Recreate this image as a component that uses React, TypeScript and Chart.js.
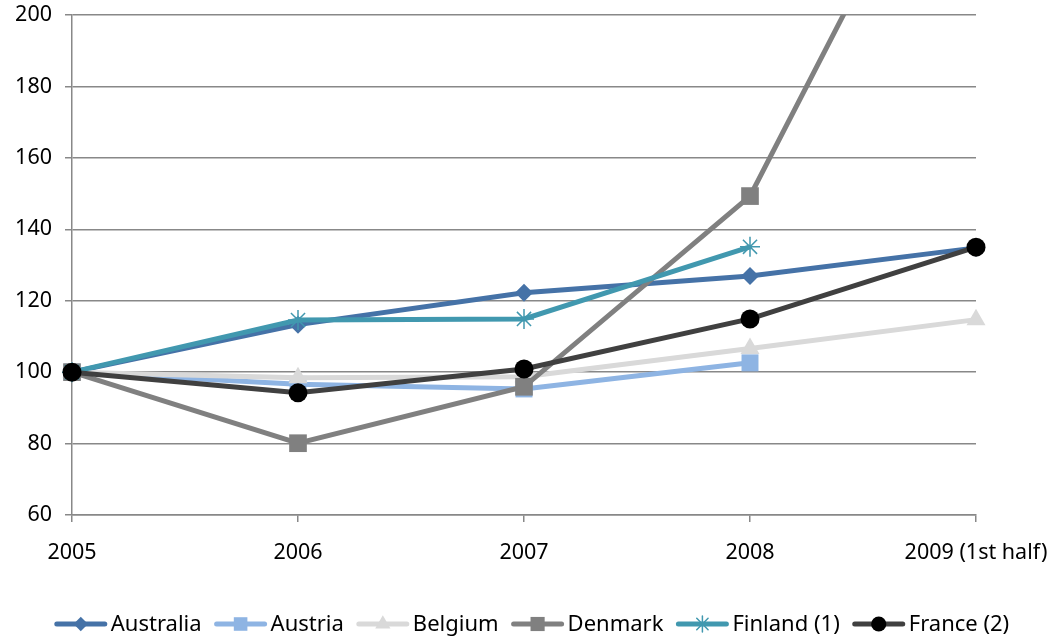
import React, { useEffect, useRef } from "react";
import { Chart, registerables } from "chart.js";

Chart.register(...registerables);

const categories = ["2005", "2006", "2007", "2008", "2009 (1st half)"];
const australia = [100, 113.3, 122.2, 126.9, 134.8];
const austria = [100, 96.6, 95.3, 102.6, null];
const belgium = [100, 98.4, 98.7, 106.6, 114.7];
const denmark = [100, 80.1, 95.9, 149.3, 272];
const finland = [100, 114.6, 114.9, 135.1, null];
const france = [100, 94.2, 100.9, 114.9, 135.0];
const yTicks = [60, 80, 100, 120, 140, 160, 180, 200];

const FONT = "'Noto Sans', sans-serif";

type Series = { label: string; data: (number | null)[]; color: string; marker: string; mcolor: string; r: number };

const series: Series[] = [
  { label: "Australia", data: australia, color: "#4572A7", marker: "rectRot", mcolor: "#4572A7", r: 9 },
  { label: "Austria", data: austria, color: "#8EB4E3", marker: "rect", mcolor: "#8EB4E3", r: 12 },
  { label: "Belgium", data: belgium, color: "#D9D9D9", marker: "triangle", mcolor: "#D9D9D9", r: 11 },
  { label: "Denmark", data: denmark, color: "#808080", marker: "rect", mcolor: "#808080", r: 12.5 },
  { label: "Finland (1)", data: finland, color: "#4198AF", marker: "star", mcolor: "#4198AF", r: 10 },
  { label: "France (2)", data: france, color: "#404040", marker: "circle", mcolor: "#000000", r: 9.5 },
];

function drawMarker(ctx: CanvasRenderingContext2D, kind: string, x: number, y: number, r: number, color: string) {
  ctx.save();
  ctx.fillStyle = color;
  ctx.strokeStyle = color;
  ctx.beginPath();
  if (kind === "rectRot") {
    ctx.moveTo(x, y - r);
    ctx.lineTo(x + r, y);
    ctx.lineTo(x, y + r);
    ctx.lineTo(x - r, y);
    ctx.closePath();
    ctx.fill();
  } else if (kind === "rect") {
    const s = r * Math.SQRT1_2;
    ctx.rect(x - s, y - s, 2 * s, 2 * s);
    ctx.fill();
  } else if (kind === "triangle") {
    ctx.moveTo(x, y - r);
    ctx.lineTo(x + r * 0.866, y + r * 0.5);
    ctx.lineTo(x - r * 0.866, y + r * 0.5);
    ctx.closePath();
    ctx.fill();
  } else if (kind === "star") {
    ctx.lineWidth = 1.5;
    for (let i = 0; i < 4; i++) {
      const a = (i * Math.PI) / 4;
      ctx.moveTo(x - r * Math.cos(a), y - r * Math.sin(a));
      ctx.lineTo(x + r * Math.cos(a), y + r * Math.sin(a));
    }
    ctx.stroke();
  } else {
    ctx.arc(x, y, r, 0, Math.PI * 2);
    ctx.fill();
  }
  ctx.restore();
}

const legendPlugin = {
  id: "customLegend",
  afterDraw(chart: any) {
    const ctx: CanvasRenderingContext2D = chart.ctx;
    ctx.save();
    ctx.font = `22px ${FONT}`;
    const lineLen = 52;
    const gapText = 4;
    const gapItem = 13;
    const widths = series.map((s) => ctx.measureText(s.label).width);
    const total = widths.reduce((a, w) => a + lineLen + gapText + w, 0) + gapItem * (series.length - 1);
    let x = 532 - total / 2;
    const y = 624;
    series.forEach((s, i) => {
      ctx.strokeStyle = s.color;
      ctx.lineWidth = 5;
      ctx.lineCap = "round";
      ctx.beginPath();
      ctx.moveTo(x + 2, y);
      ctx.lineTo(x + lineLen - 2, y);
      ctx.stroke();
      drawMarker(ctx, s.marker, x + lineLen / 2, y, s.r * 0.8, s.mcolor);
      ctx.fillStyle = "#000";
      ctx.textBaseline = "middle";
      ctx.textAlign = "left";
      ctx.fillText(s.label, x + lineLen + gapText, y + 1);
      x += lineLen + gapText + widths[i] + gapItem;
    });
    ctx.restore();
  },
};

export default function App() {
  const ref = useRef<HTMLCanvasElement>(null);
  useEffect(() => {
    if (!ref.current) return;
    const chart = new Chart(ref.current, {
      type: "line",
      data: {
        labels: categories,
        datasets: series.map((s, i) => ({
          label: s.label,
          data: s.data,
          borderColor: s.color,
          backgroundColor: s.mcolor,
          borderWidth: 5,
          pointStyle: s.marker as any,
          pointRadius: s.r,
          pointBorderWidth: s.marker === "star" ? 1.5 : 0,
          pointBorderColor: s.mcolor,
          pointBackgroundColor: s.mcolor,
          tension: 0,
          fill: false,
          order: series.length - i,
          clip: { left: 20, right: 20, top: 0, bottom: 20 } as any,
        })),
      },
      options: {
        animation: false,
        responsive: false,
        layout: { padding: { top: 15, right: 80, left: 0, bottom: 0 } },
        plugins: { legend: { display: false }, tooltip: { enabled: false } },
        scales: {
          x: {
            type: "category",
            offset: false,
            grid: { drawOnChartArea: false, drawTicks: true, tickLength: 7, color: "#888888", lineWidth: 1.5 },
            border: { color: "#888888", width: 1.5 },
            ticks: { color: "#000", font: { family: FONT, size: 21.5 }, padding: 18, maxRotation: 0, autoSkip: false },
            afterFit: (scale: any) => {
              scale.height = 124;
              scale.paddingLeft = 0;
              scale.paddingRight = 0;
            },
          },
          y: {
            min: 60,
            max: 200,
            grid: { color: "#888888", lineWidth: 1.5, tickLength: 7, drawTicks: true },
            border: { color: "#888888", width: 1.5 },
            ticks: { color: "#000", font: { family: FONT, size: 21.5 }, padding: 13, stepSize: 20 },
            afterBuildTicks: (scale: any) => {
              scale.ticks = yTicks.map((v) => ({ value: v }));
            },
            afterFit: (scale: any) => {
              scale.width = 72;
              scale.paddingTop = 0;
              scale.paddingBottom = 0;
            },
          },
        },
      },
      plugins: [legendPlugin],
    });
    return () => chart.destroy();
  }, []);
  return (
    <div style={{ position: "absolute", left: 0, top: 0, width: 1056, height: 639, background: "#fff" }}>
      <canvas ref={ref} width={1056} height={639} style={{ display: "block" }} />
    </div>
  );
}
